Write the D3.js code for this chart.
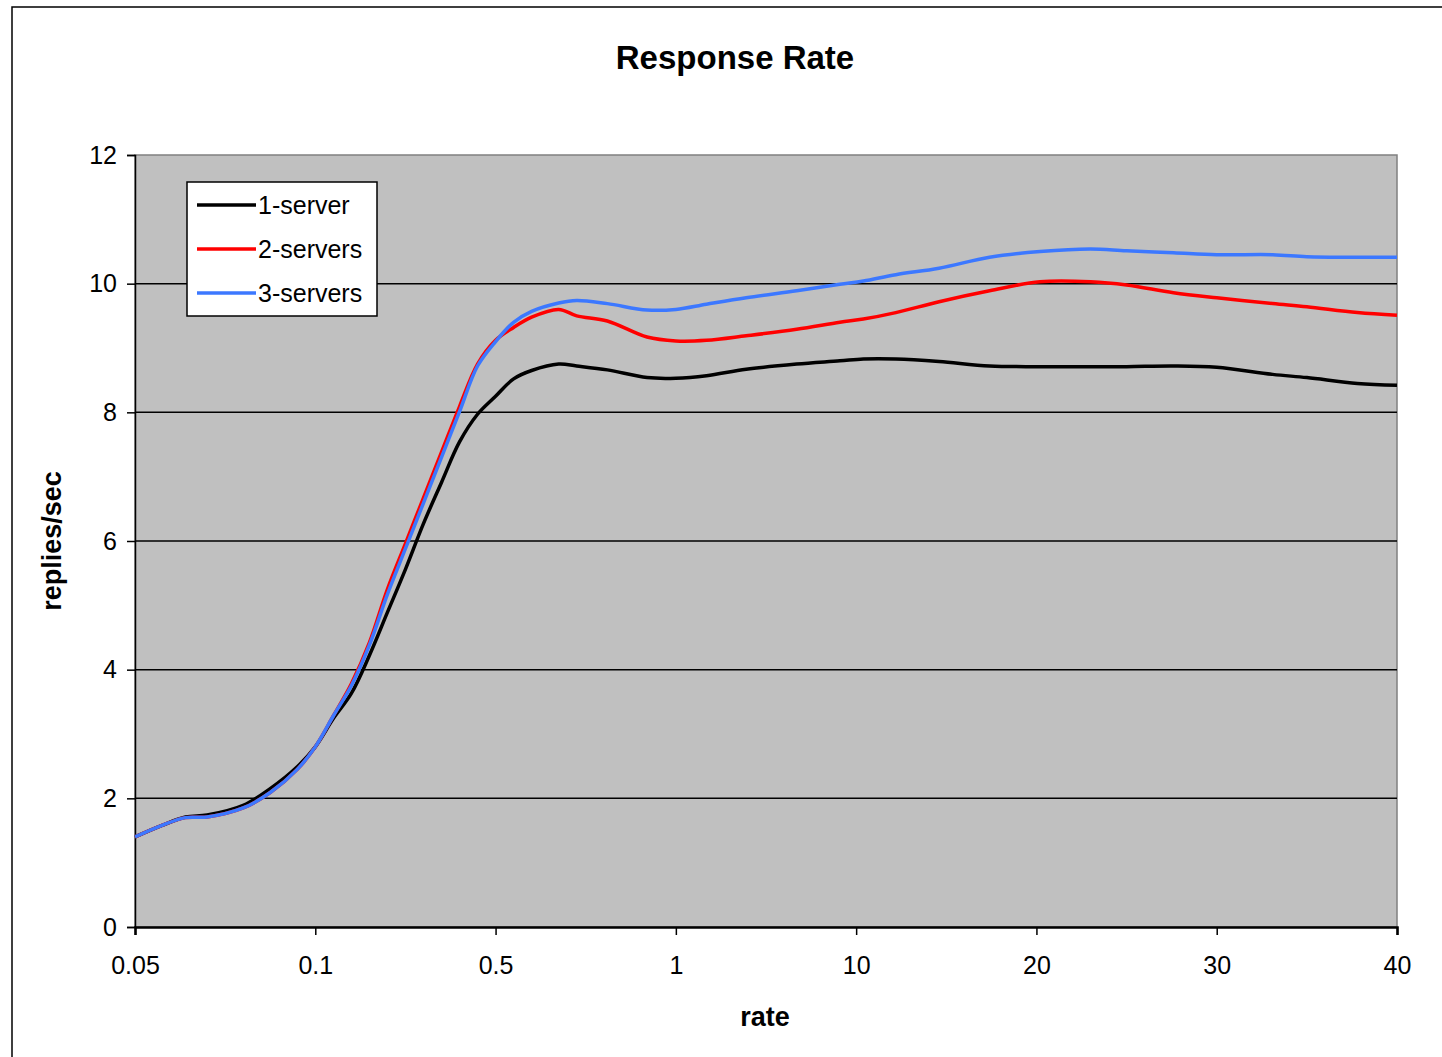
<!DOCTYPE html>
<html><head><meta charset="utf-8">
<script src="https://cdn.jsdelivr.net/npm/d3@7"></script>
<style>html,body{margin:0;padding:0;background:#fff;}svg{display:block;font-family:"Liberation Sans",Arial,sans-serif;}</style>
</head><body>
<svg id="chart" width="1442" height="1057"></svg>
<script>
const categories = ["0.05","0.1","0.5","1","10","20","30","40"];
const yTicks = [0,2,4,6,8,10,12];
const samplePos = [0,0.15,0.28,0.4,0.6,0.75,0.9,1.0,1.1,1.2,1.3,1.4,1.5,1.6,1.7,1.8,1.9,2.0,2.1,2.2,2.35,2.45,2.62,2.84,3.0,3.17,3.39,3.67,3.91,4.04,4.22,4.46,4.74,5.02,5.3,5.5,5.76,6.0,6.31,6.5,6.78,7.0];
const oneServer = [1.40,1.58,1.71,1.74,1.89,2.15,2.49,2.80,3.24,3.63,4.22,4.89,5.56,6.27,6.91,7.54,7.97,8.25,8.52,8.65,8.75,8.72,8.66,8.54,8.53,8.57,8.67,8.75,8.80,8.83,8.83,8.79,8.72,8.71,8.71,8.71,8.72,8.70,8.59,8.54,8.45,8.42];
const twoServers = [1.40,1.58,1.70,1.71,1.85,2.09,2.45,2.80,3.28,3.78,4.42,5.25,5.96,6.67,7.38,8.09,8.75,9.12,9.32,9.48,9.60,9.50,9.42,9.17,9.11,9.12,9.19,9.29,9.40,9.45,9.55,9.72,9.89,10.03,10.03,9.98,9.86,9.78,9.69,9.64,9.55,9.51];
const threeServers = [1.40,1.58,1.70,1.71,1.85,2.09,2.45,2.80,3.28,3.75,4.38,5.17,5.88,6.59,7.30,8.01,8.72,9.10,9.40,9.57,9.70,9.74,9.69,9.59,9.60,9.68,9.78,9.89,9.99,10.04,10.14,10.24,10.41,10.50,10.54,10.51,10.48,10.45,10.45,10.42,10.41,10.41];
const seriesNames = ["1-server","2-servers","3-servers"];
const seriesColors = ["#000000","#ff0000","#3c78ff"];

const svg = d3.select("#chart");
const L = 135, R = 1397, T = 155, B = 927;
const FONT = "'Liberation Sans',Arial,sans-serif";
const x = d3.scaleLinear().domain([0, categories.length - 1]).range([L, R]);
const y = d3.scaleLinear().domain([0, 12]).range([B, T]);

// outer border
svg.append("rect").attr("x",12).attr("y",7).attr("width",1500).attr("height",1100)
  .attr("fill","#fff").attr("stroke","#000").attr("stroke-width",1.5);

// plot area
svg.append("rect").attr("x",L).attr("y",T).attr("width",R-L).attr("height",B-T)
  .attr("fill","#c0c0c0").attr("stroke","#808080").attr("stroke-width",1.5);

// gridlines
svg.append("g").selectAll("line").data(yTicks.filter(d => d > 0 && d < 12)).join("line")
  .attr("x1",L).attr("x2",R).attr("y1",d=>y(d)).attr("y2",d=>y(d))
  .attr("stroke","#000").attr("stroke-width",1.5);

// y axis
const yAxis = svg.append("g").attr("transform",`translate(${L},0)`)
  .call(d3.axisLeft(y).tickValues(yTicks).tickSize(8).tickPadding(10).tickFormat(d3.format("d")));
yAxis.select(".domain").attr("stroke","#000").attr("stroke-width",1.5);
yAxis.selectAll(".tick line").attr("stroke","#000").attr("stroke-width",1.5);
yAxis.selectAll("text").attr("font-size",25).attr("fill","#000").attr("font-family",FONT);

// x axis
const xAxis = svg.append("g").attr("transform",`translate(0,${B})`)
  .call(d3.axisBottom(x).tickValues(d3.range(categories.length)).tickSize(8).tickPadding(21)
    .tickFormat(i => categories[i]));
xAxis.select(".domain").attr("stroke","#000").attr("stroke-width",2.5);
xAxis.selectAll(".tick line").attr("stroke","#000").attr("stroke-width",1.5);
xAxis.selectAll("text").attr("font-size",25).attr("fill","#000").attr("font-family",FONT);

// lines
const seriesData = [oneServer, twoServers, threeServers];
const line = d3.line().x((d,i) => x(samplePos[i])).y(d => y(d)).curve(d3.curveCatmullRom.alpha(0.5));
seriesData.forEach((s, k) => {
  svg.append("path").datum(s).attr("d", line).attr("fill","none")
    .attr("stroke", seriesColors[k]).attr("stroke-width",3.5).attr("stroke-linejoin","round");
});

// title
svg.append("text").attr("x",735).attr("y",69).attr("text-anchor","middle")
  .attr("font-size",33).attr("font-weight","bold").text("Response Rate");
// axis titles
svg.append("text").attr("x",765).attr("y",1026).attr("text-anchor","middle")
  .attr("font-size",27).attr("font-weight","bold").text("rate");
svg.append("text").attr("transform","translate(61,541) rotate(-90)").attr("text-anchor","middle")
  .attr("font-size",27).attr("font-weight","bold").text("replies/sec");

// legend
const lg = svg.append("g");
lg.append("rect").attr("x",187).attr("y",182).attr("width",190).attr("height",134)
  .attr("fill","#fff").attr("stroke","#000").attr("stroke-width",1.5);
seriesNames.forEach((n, k) => {
  const yy = 205 + k*44;
  lg.append("line").attr("x1",197).attr("x2",256).attr("y1",yy).attr("y2",yy)
    .attr("stroke",seriesColors[k]).attr("stroke-width",3.5);
  lg.append("text").attr("x",258).attr("y",yy+9).attr("font-size",25).text(n);
});
</script>
</body></html>
